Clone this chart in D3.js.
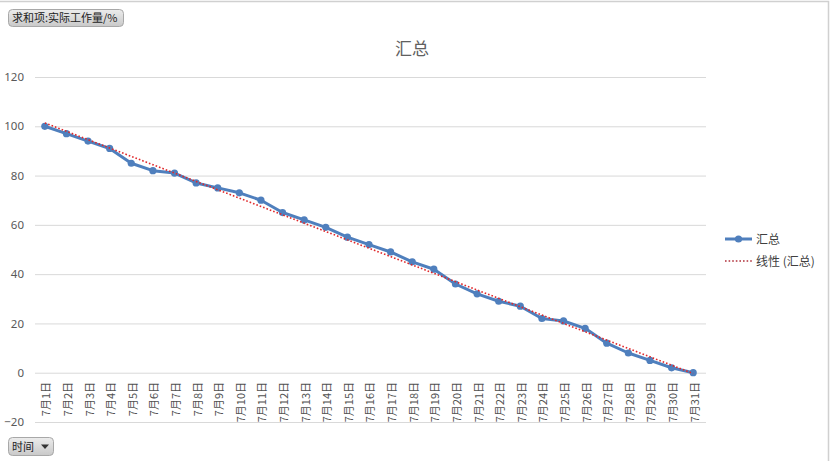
<!DOCTYPE html>
<html>
<head>
<meta charset="utf-8">
<script src="https://cdn.jsdelivr.net/npm/d3@7/dist/d3.min.js"></script>
<style>
  body { margin: 0; background: #fff; }
  svg { display: block; font-family: "Noto Sans CJK SC", "Noto Sans", sans-serif; }
</style>
</head>
<body>
<svg width="831" height="461"></svg>
<script>
// 7月每日剩余工作量
var days = d3.range(1, 32).map(function(d) { return "7月" + d + "日"; });
var values = [100, 97, 94, 91, 85, 82, 81, 77, 75, 73, 70, 65, 62, 59, 55, 52,
              49, 45, 42, 36, 32, 29, 27, 22, 21, 18, 12, 8, 5, 2, 0];
var yTicks = [-20, 0, 20, 40, 60, 80, 100, 120];
var seriesName = "汇总";
var trendName = "线性 (汇总)";

var svg = d3.select("svg");
var blue = "#4f7fbd", red = "#e0282b", textGray = "#595959";

var x = d3.scalePoint().domain(days).range([34, 704]).padding(0.5);
var y = d3.scaleLinear().domain([-20, 120]).range([422, 77]);

// border of the chart object
svg.append("path")
    .attr("d", "M0,1.5H828.5V461")
    .attr("fill", "none")
    .attr("stroke", "#d0d0d0")
    .attr("stroke-width", 1.5);

// gridlines + y labels
var yAxis = d3.axisLeft(y).tickValues(yTicks).tickSize(-(706 - 35)).tickPadding(11);
var gy = svg.append("g").attr("transform", "translate(35,0)").call(yAxis);
gy.select(".domain").remove();
gy.selectAll(".tick line").attr("stroke", "#d9d9d9");
gy.selectAll(".tick text")
    .attr("fill", textGray)
    .style("font-size", "11.5px")
    .style("font-family", "'Noto Sans', sans-serif");

// x labels, rotated, hanging below the zero line
svg.append("g").selectAll("text")
  .data(days)
  .enter().append("text")
    .attr("transform", function(d) { return "translate(" + (x(d) + 1.5) + ",382) rotate(-90)"; })
    .attr("text-anchor", "end")
    .attr("dy", "0.36em")
    .attr("fill", "#505050")
    .style("font-size", "11px")
    .text(function(d) { return d; });

// linear trend (least squares on the series)
var n = values.length, idx = d3.range(1, n + 1);
var mx = d3.mean(idx), my = d3.mean(values);
var slope = d3.sum(idx, function(i, k) { return (i - mx) * (values[k] - my); }) /
            d3.sum(idx, function(i) { return (i - mx) * (i - mx); });
var icept = my - slope * mx;

var line = d3.line()
    .x(function(d, i) { return x(days[i]); })
    .y(function(d) { return y(d); });

svg.append("path")
    .datum(values)
    .attr("fill", "none")
    .attr("stroke", blue)
    .attr("stroke-width", 3)
    .attr("stroke-linejoin", "round")
    .attr("d", line);

svg.append("g").selectAll("circle")
  .data(values)
  .enter().append("circle")
    .attr("cx", function(d, i) { return x(days[i]); })
    .attr("cy", function(d) { return y(d); })
    .attr("r", 3.6)
    .attr("fill", blue);

svg.append("path")
    .datum(idx.map(function(i) { return icept + slope * i; }))
    .attr("fill", "none")
    .attr("stroke", red)
    .attr("stroke-width", 1.6)
    .attr("stroke-dasharray", "1.6,2")
    .attr("d", line);

// title
svg.append("text")
    .attr("x", 412).attr("y", 55)
    .attr("text-anchor", "middle")
    .attr("fill", "#606060")
    .style("font-size", "17px")
    .text(seriesName);

// legend
var lg = svg.append("g").attr("transform", "translate(725,0)");
lg.append("line").attr("x1", 0).attr("x2", 27).attr("y1", 239).attr("y2", 239)
    .attr("stroke", blue).attr("stroke-width", 3);
lg.append("circle").attr("cx", 13.5).attr("cy", 239).attr("r", 3.6).attr("fill", blue);
lg.append("text").attr("x", 31).attr("y", 243.5).attr("fill", "#404040")
    .style("font-size", "12px").text(seriesName);
lg.append("line").attr("x1", 0).attr("x2", 27).attr("y1", 261).attr("y2", 261)
    .attr("stroke", "#b0303a").attr("stroke-width", 1.6).attr("stroke-dasharray", "1.6,2");
lg.append("text").attr("x", 31).attr("y", 265.5).attr("fill", "#404040")
    .style("font-size", "12px").text(trendName);

// pivot field buttons
var defs = svg.append("defs");
var grad = defs.append("linearGradient").attr("id", "btn").attr("x1", 0).attr("x2", 0).attr("y1", 0).attr("y2", 1);
grad.append("stop").attr("offset", "0%").attr("stop-color", "#ececec");
grad.append("stop").attr("offset", "100%").attr("stop-color", "#c9c9c9");

function button(x0, y0, w, h, label) {
  var g = svg.append("g").attr("transform", "translate(" + x0 + "," + y0 + ")");
  g.append("rect").attr("x", 0.5).attr("y", 0.5).attr("width", w).attr("height", h)
      .attr("rx", 4).attr("fill", "url(#btn)").attr("stroke", "#a8a8a8");
  g.append("text").attr("x", 4).attr("y", h / 2 + 4.5).attr("fill", "#222")
      .style("font-size", "11px").text(label);
  return g;
}
button(8, 9, 115, 17, "求和项:实际工作量/%");
var tb = button(8, 437, 45, 18, "时间");
tb.append("path").attr("d", "M33,7.5h8l-4,4.5z").attr("fill", "#333");
</script>
</body>
</html>
